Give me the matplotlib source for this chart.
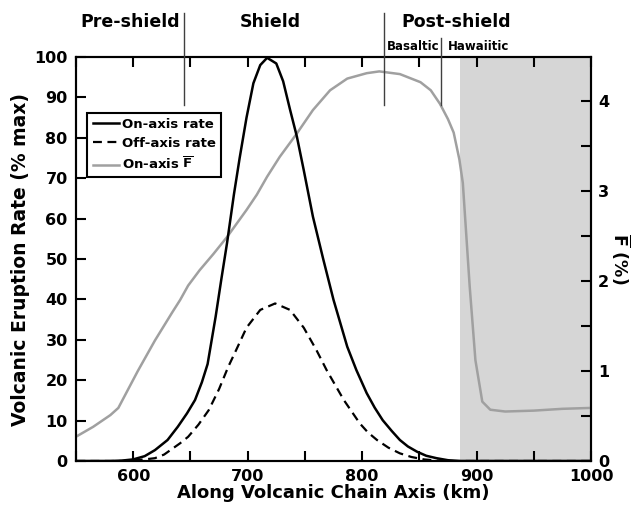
import numpy as np
import matplotlib
matplotlib.use("Agg")
import matplotlib.pyplot as plt
from matplotlib.ticker import MultipleLocator

plt.rcParams['font.family'] = ['DejaVu Sans']
plt.rcParams['font.weight'] = 'bold'
plt.rcParams['mathtext.fontset'] = 'dejavusans'

# on-axis eruption rate (% of max)
on_km = [550, 580, 590, 600, 610, 619, 630, 639, 647, 654, 660, 665, 672, 677, 682, 688,
         693, 699, 705, 711, 717, 725, 731, 737, 743, 749, 757, 766, 775, 787, 795, 804,
         811, 818, 826, 833, 840, 848, 856, 865, 875, 885, 1000]
on_rate = [0, 0, 0.1, 0.4, 1.2, 2.7, 5.2, 8.5, 11.8, 15.1, 19.5, 24, 35.7, 45, 54, 66,
           75, 85, 93.5, 98, 99.8, 98.4, 94, 87, 80.3, 72, 60.5, 50, 39.9, 28.3, 22.5, 16.8,
           13.2, 10.1, 7.4, 5.2, 3.6, 2.3, 1.3, 0.7, 0.2, 0, 0]

# off-axis eruption rate (% of max)
off_km = [550, 590, 600, 610, 619, 627, 634, 641, 648, 657, 666, 675, 683, 690, 699, 711,
          724, 737, 749, 760, 769, 784, 798, 805, 813, 823, 833, 843, 854, 866, 880, 1000]
off_rate = [0, 0, 0.15, 0.4, 0.7, 1.6, 3.0, 4.4, 6.0, 9.0, 12.6, 17.8, 23.3, 27.5, 33.0, 37.4,
            39.0, 37.4, 33.0, 27.5, 22.5, 15.1, 9.3, 7.1, 5.2, 3.3, 1.9, 1.0, 0.4, 0.1, 0, 0]

# mean melt fraction F (%) on axis
f_km = [550, 565, 580, 587, 604, 619, 634, 641, 648, 658, 670, 682, 699, 708, 717, 728,
        743, 757, 772, 787, 804, 815, 833, 851, 860, 868, 875, 880, 885, 888, 894, 899,
        905, 912, 925, 950, 975, 1000]
f_bar = [0.27, 0.38, 0.51, 0.59, 1.0, 1.34, 1.65, 1.79, 1.95, 2.12, 2.3, 2.49, 2.79, 2.96,
         3.16, 3.38, 3.64, 3.90, 4.12, 4.25, 4.31, 4.33, 4.30, 4.21, 4.12, 3.97, 3.8, 3.65,
         3.35, 3.09, 1.94, 1.12, 0.66, 0.57, 0.55, 0.56, 0.58, 0.59]

phase_labels = ['Pre-shield', 'Shield', 'Post-shield']
phase_label_x = [597, 720, 882]
phase_bounds = [644, 819.5]
sub_labels = ['Basaltic', 'Hawaiitic']
sub_label_x = [844.5, 901.5]
sub_bound = 868.5
shade_start = 885.5

fig = plt.figure(figsize=(6.37, 5.08), dpi=100)
ax = fig.add_axes([0.1193, 0.0925, 0.8085, 0.7953])
ax2 = ax.twinx()
# left axes drawn on top of the twin so the legend covers everything
ax2.set_zorder(0)
ax.set_zorder(1)
ax.patch.set_visible(False)

ax2.axvspan(shade_start, 1000, color='#d6d6d6', lw=0, zorder=0)
l3, = ax2.plot(f_km, f_bar, color='#a0a0a0', lw=1.8, zorder=3)
l1, = ax.plot(on_km, on_rate, color='black', lw=1.8, zorder=3)
l2, = ax.plot(off_km, off_rate, color='black', lw=1.6, dashes=(4, 2.5), zorder=3)

ax.set_xlim(550, 1000)
ax.set_ylim(0, 100)
ax2.set_ylim(0, 4.49)

ax.xaxis.set_major_locator(MultipleLocator(100))
ax.xaxis.set_minor_locator(MultipleLocator(50))
ax.yaxis.set_major_locator(MultipleLocator(10))
ax2.yaxis.set_major_locator(MultipleLocator(1))
ax2.yaxis.set_minor_locator(MultipleLocator(0.5))

ax.tick_params(axis='x', which='both', direction='in', top=True, length=7, width=1.5,
               labelsize=11.5, pad=6)
ax.tick_params(axis='y', which='both', direction='in', length=7, width=1.5,
               labelsize=11.5, pad=6, right=False)
ax2.tick_params(axis='y', which='both', direction='in', length=7, width=1.5,
                labelsize=11.5, pad=5)
for a in (ax, ax2):
    for s in a.spines.values():
        s.set_linewidth(1.5)

ax.set_xlabel('Along Volcanic Chain Axis (km)', fontsize=13, fontweight='bold', labelpad=0)
ax.set_ylabel('Volcanic Eruption Rate (% max)', fontsize=13.5, fontweight='bold', labelpad=3)
ax2.set_ylabel(r'$\mathbf{\overline{F}}$ (%)', fontsize=12.5, fontweight='bold', rotation=270,
               labelpad=17)

# phase boundaries above the plot
for xb in phase_bounds:
    ax.plot([xb, xb], [88.2, 111.0], color='#404040', lw=1, clip_on=False, zorder=5)
ax.plot([sub_bound, sub_bound], [88.2, 104.8], color='#404040', lw=1, clip_on=False, zorder=5)
for lab, xl in zip(phase_labels, phase_label_x):
    ax.text(xl, 108.7, lab, ha='center', va='center', fontsize=12.5, fontweight='bold')
for lab, xl in zip(sub_labels, sub_label_x):
    ax.text(xl, 102.7, lab, ha='center', va='center', fontsize=8.5, fontweight='bold')

leg = ax.legend([l1, l2, l3], ['On-axis rate', 'Off-axis rate', r'On-axis $\mathbf{\overline{F}}$'],
                loc='upper left', bbox_to_anchor=(0.022, 0.862), borderaxespad=0,
                fancybox=False, edgecolor='black', framealpha=1, fontsize=9.5,
                handlelength=2.0, handletextpad=0.25, labelspacing=0.45,
                borderpad=0.4)
leg.get_frame().set_linewidth(1.5)
for t in leg.get_texts():
    t.set_fontweight('bold')

fig.savefig('out.png', dpi=100)
